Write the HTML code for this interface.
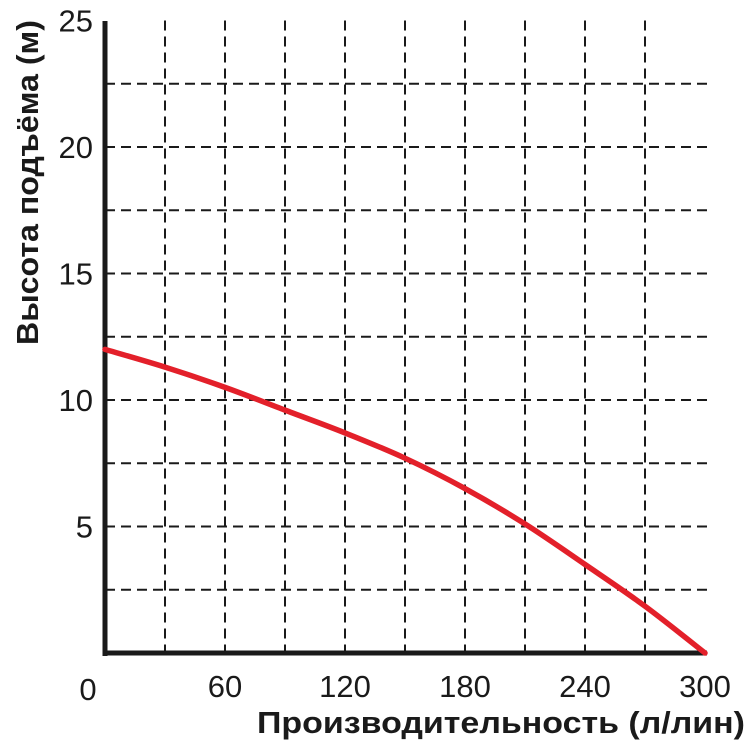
<!DOCTYPE html>
<html><head><meta charset="utf-8"><style>
body{margin:0;background:#fff;width:752px;height:748px;overflow:hidden}
svg text{font-family:"Liberation Sans",sans-serif;fill:#1a1a1a}
</style></head><body>
<svg id="chart" width="752" height="748" viewBox="0 0 752 748" xmlns="http://www.w3.org/2000/svg">
<g id="grid"></g>
<g id="ticks"></g>
<line x1="105" y1="21" x2="105" y2="656" stroke="#1a1a1a" stroke-width="5"/>
<line x1="103" y1="653" x2="707" y2="653" stroke="#1a1a1a" stroke-width="5"/>
<path id="curve" fill="none" stroke="#e3202a" stroke-width="5.5" stroke-linecap="round"/>
<text x="88" y="700" font-size="31" text-anchor="middle">0</text>
<text x="257" y="733" font-size="31" font-weight="bold" textLength="488" lengthAdjust="spacingAndGlyphs">Производительность (л/лин)</text>
<text transform="translate(38,345) rotate(-90)" font-size="31" font-weight="bold" textLength="325" lengthAdjust="spacingAndGlyphs">Высота подъёма (м)</text>
</svg>
<script>
const xTicks=[60,120,180,240,300];
const yTicks=[5,10,15,20,25];
const flow=[0,30,60,90,120,150,180,210,240,270,300];
const head=[12,11.3,10.5,9.6,8.7,7.7,6.5,5.1,3.5,1.85,0];
const X=v=>105+v*2, Y=v=>653-v*25.3;
const NS="http://www.w3.org/2000/svg";
const grid=document.getElementById('grid'), ticks=document.getElementById('ticks');
for(let v=30;v<300;v+=30){
  const l=document.createElementNS(NS,'line');
  
  
  l.setAttribute('x1',X(v));l.setAttribute('x2',X(v));l.setAttribute('y1',Y(25));l.setAttribute('y2',Y(0));
  l.setAttribute('stroke','#1a1a1a');l.setAttribute('stroke-width','2');l.setAttribute('stroke-dasharray','10 6');
  grid.appendChild(l);
}
for(let v=2.5;v<25;v+=2.5){
  const l=document.createElementNS(NS,'line');
  
  
  l.setAttribute('x1',X(0));l.setAttribute('x2',708);l.setAttribute('y1',Y(v));l.setAttribute('y2',Y(v));
  l.setAttribute('stroke','#1a1a1a');l.setAttribute('stroke-width','2');l.setAttribute('stroke-dasharray','10 6');
  grid.appendChild(l);
}
xTicks.forEach(v=>{
  const t=document.createElementNS(NS,'text');
  
  
  t.setAttribute('x',X(v));t.setAttribute('y',697);t.setAttribute('font-size','31');t.setAttribute('text-anchor','middle');
  t.textContent=v;ticks.appendChild(t);
});
yTicks.forEach(v=>{
  const t=document.createElementNS(NS,'text');
  
  
  t.setAttribute('x',93);t.setAttribute('y',Y(v)+11);t.setAttribute('font-size','31');t.setAttribute('text-anchor','end');
  t.textContent=v;ticks.appendChild(t);
});
// smooth Catmull-Rom curve through data points
const pts=flow.map((f,i)=>[X(f),Y(head[i])]);
let d='M'+pts[0][0]+','+pts[0][1];
for(let i=0;i<pts.length-1;i++){
  const p0=pts[Math.max(0,i-1)],p1=pts[i],p2=pts[i+1],p3=pts[Math.min(pts.length-1,i+2)];
  const c1=[p1[0]+(p2[0]-p0[0])/6,p1[1]+(p2[1]-p0[1])/6];
  const c2=[p2[0]-(p3[0]-p1[0])/6,p2[1]-(p3[1]-p1[1])/6];
  d+=' C'+c1[0]+','+c1[1]+' '+c2[0]+','+c2[1]+' '+p2[0]+','+p2[1];
}
document.getElementById('curve').setAttribute('d',d);
</script>
</body></html>
